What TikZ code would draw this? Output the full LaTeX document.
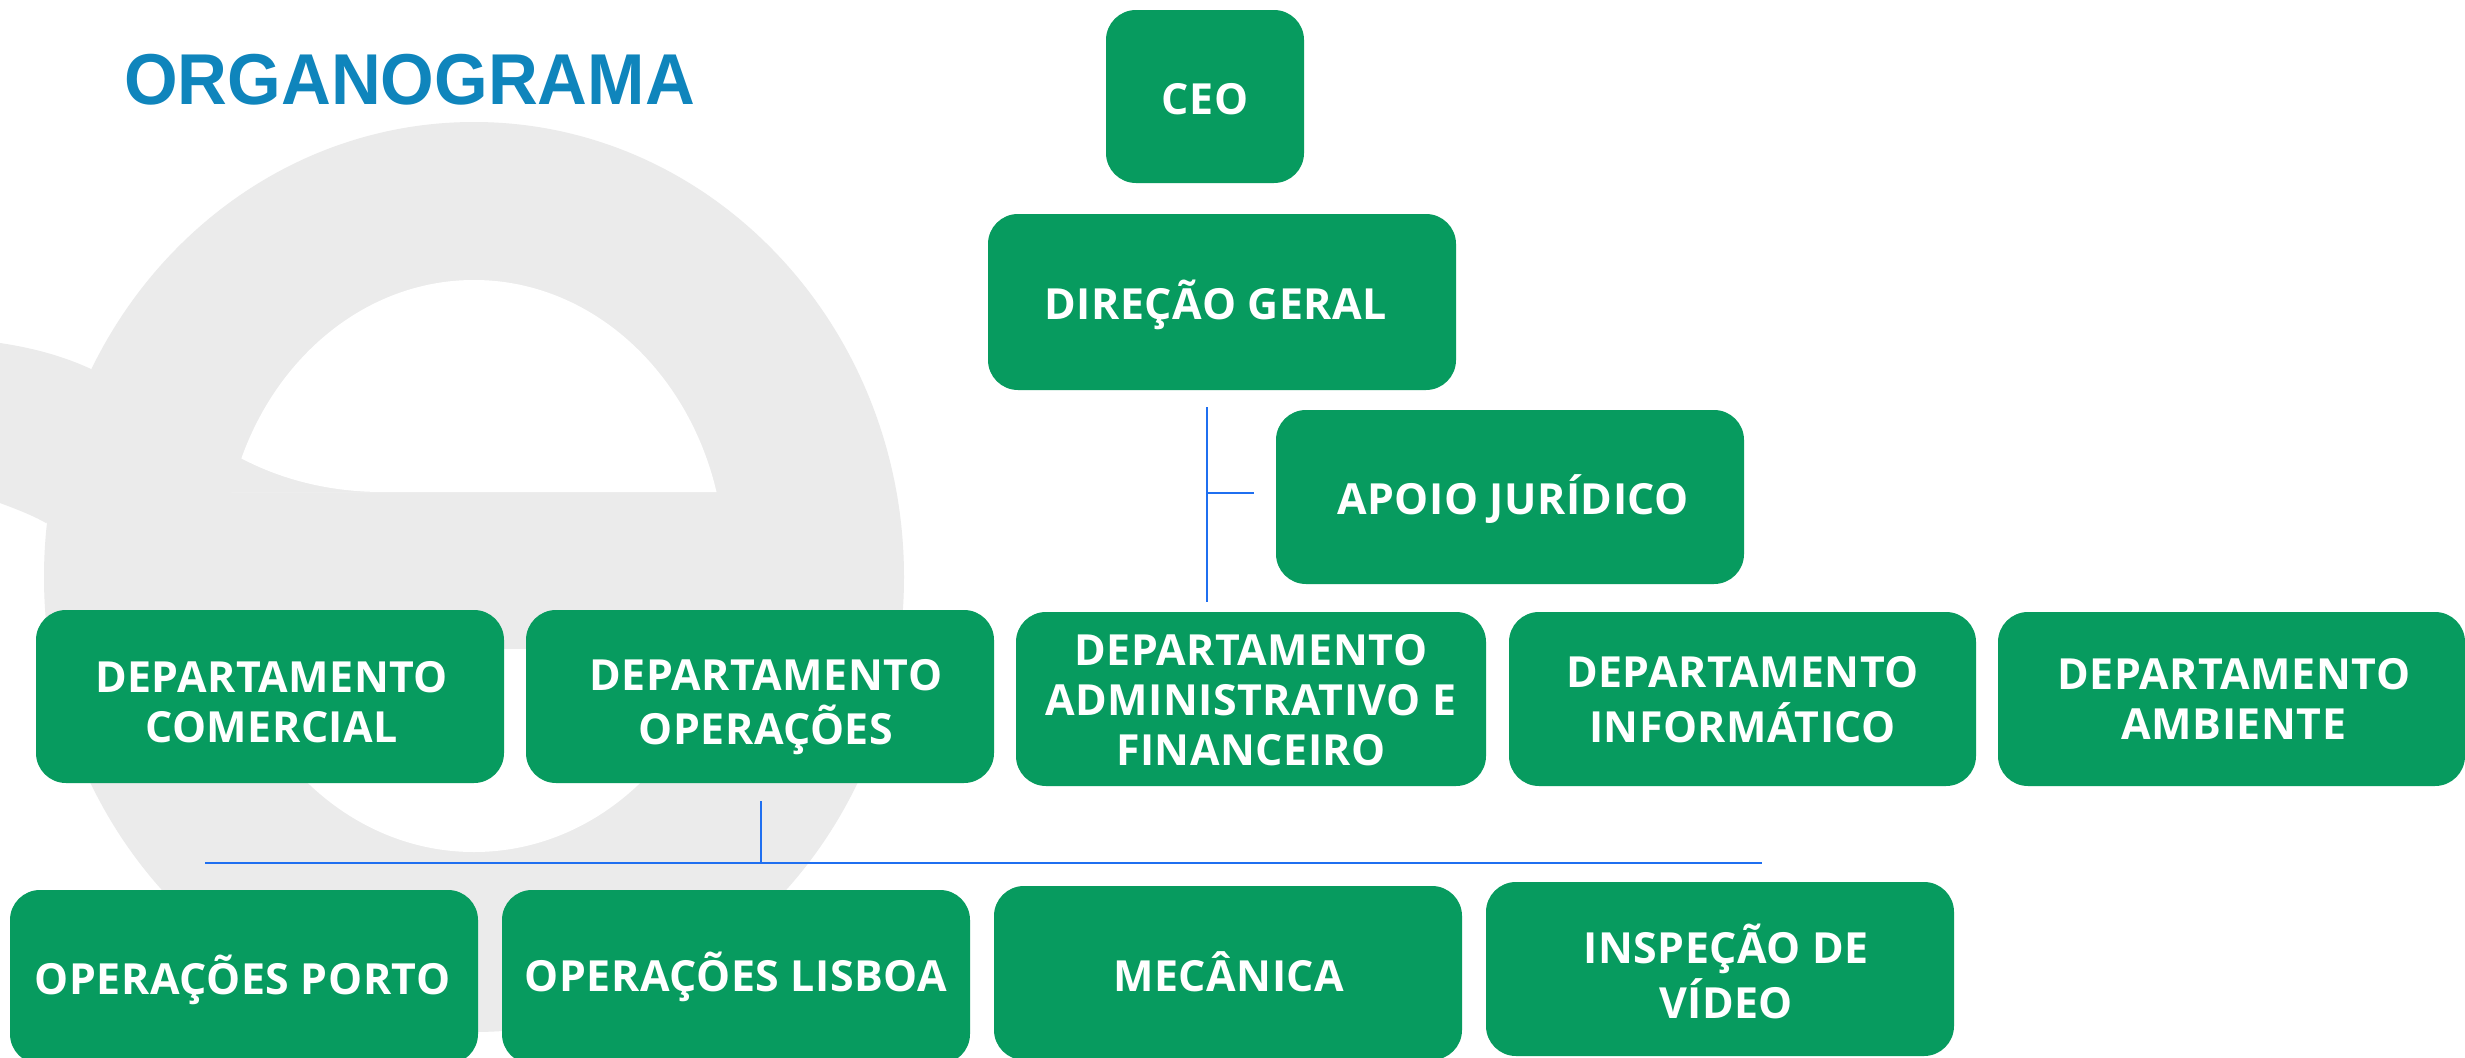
\documentclass[tikz,border=0pt]{standalone}
\usepackage{fontspec}
\setmainfont[LetterSpace=1.2]{Open Sans}
\newfontfamily\titlefont[FakeStretch=0.957]{Liberation Sans}
\usetikzlibrary{positioning}
\definecolor{boxgreen}{HTML}{079B5F}
\definecolor{logogrey}{HTML}{EBEBEB}
\definecolor{linkblue}{HTML}{1F6FF0}
\definecolor{titleblue}{HTML}{0F85BC}
\def\uu{0.02cm}
\tikzset{
  orgbox/.style={fill=boxgreen,draw=none,rounded corners=0.6cm,text=white,inner sep=0pt,align=center,
    font=\fontsize{24.4pt}{28.6pt}\selectfont\bfseries},
  link/.style={draw=linkblue,line width=1.6pt}
}
% name, x1, y1, x2, y2, dx, dy, text
\newcommand\orgb[8]{\node[orgbox,minimum width={(#4-#2)*\uu},minimum height={(#5-#3)*\uu}] (#1) at ({(#2+#4)/2},{(#3+#5)/2}) {\kern#6pt\raisebox{\dimexpr#7pt-6pt\relax}[0pt][0pt]{\begin{tabular}[c]{@{}c@{}}#8\end{tabular}}};}
\begin{document}
\begin{tikzpicture}[x=0.02cm,y=-0.02cm]
\clip (0,0) rectangle (2465,1058);
\fill[white] (0,0) rectangle (2465,1058);
% background logo
\begin{scope}[logogrey]
  \fill (0,343) .. controls (33,348) and (63,356) .. (91,369) -- (120,480) -- (46,523) .. controls (32,515) and (16,509) .. (0,503) -- cycle;
  \fill (474,577) ellipse [x radius=430,y radius=455];
\end{scope}
\begin{scope}
  \clip (0,492) -- (383,492) .. controls (330,492) and (280,480) .. (235,455) -- (235,100) -- (800,100) -- (800,492) -- cycle;
  \fill[white] (474,566) ellipse [x radius=251,y radius=286];
\end{scope}
\begin{scope}
  \clip (0,649) rectangle (900,900);
  \fill[white] (474,566) ellipse [x radius=255,y radius=286];
\end{scope}
\node[anchor=west,inner sep=0pt,text=titleblue,font=\titlefont\fontsize{41pt}{41pt}\selectfont\bfseries] (title) at (124,80) {ORGANOGRAMA};
% boxes
\orgb{ceo}{1106}{10}{1304}{183}{0}{-4.5}{CEO}
\orgb{dir}{988}{214}{1456}{390}{-7}{-3.5}{DIREÇÃO GERAL}
\orgb{apoio}{1276}{410}{1744}{584}{3.5}{-3}{APOIO JURÍDICO}
\orgb{com}{36}{610}{504}{783}{1.8}{-6.5}{DEPARTAMENTO\\COMERCIAL}
\orgb{ope}{526}{610}{994}{783}{6.8}{-6.5}{DEPARTAMENTO\\OPERAÇÕES}
\orgb{adm}{1016}{612}{1486}{786}{0}{-4}{DEPARTAMENTO\\ADMINISTRATIVO E\\FINANCEIRO}
\orgb{inf}{1509}{612}{1976}{786}{0}{-3.5}{DEPARTAMENTO\\INFORMÁTICO}
\orgb{amb}{1998}{612}{2465}{786}{2.7}{-3.5}{DEPARTAMENTO\\AMBIENTE}
\orgb{por}{10}{890}{478}{1064}{-1.5}{-3}{OPERAÇÕES PORTO}
\orgb{lis}{502}{890}{970}{1064}{0}{-1.5}{OPERAÇÕES LISBOA}
\orgb{mec}{994}{886}{1462}{1060}{0.9}{-3.9}{MECÂNICA}
\orgb{ins}{1486}{882}{1954}{1056}{7}{-5.5}{INSPEÇÃO DE\\VÍDEO}
% connectors
\coordinate (vtop) at (1207,407);
\coordinate (vbot) at (1207,602);
\coordinate (vmid) at (1207,493);
\coordinate (vtick) at (1254,493);
\draw[link] (vtop) -- (vbot);
\draw[link] (vmid) -- (vtick);
\coordinate (hl) at (205,863);
\coordinate (hr) at (1762,863);
\coordinate (ht) at (761,801);
\coordinate (hm) at (761,863);
\draw[link] (hl) -- (hr);
\draw[link] (ht) -- (hm);
\end{tikzpicture}
\end{document}
